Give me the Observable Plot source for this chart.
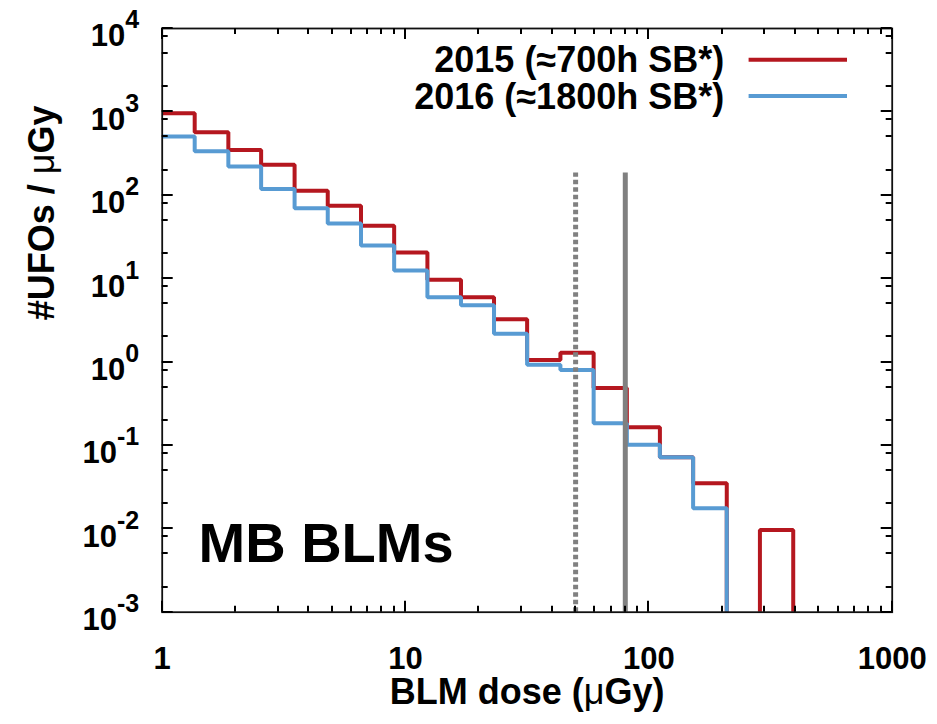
<!DOCTYPE html>
<html><head><meta charset="utf-8">
<script src="https://cdn.jsdelivr.net/npm/d3@7"></script>
<script src="https://cdn.jsdelivr.net/npm/@observablehq/plot@0.6"></script>
<style>html,body{margin:0;padding:0;background:#fff;} #chart{width:937px;height:724px;}</style>
</head><body><div id="chart"></div>
<script>
// ---- data ----
const binEdges = [1, 1.36, 1.87, 2.55, 3.5, 4.79, 6.56, 8.98, 12.3, 16.9, 23.1, 31.6, 43.3, 59.3, 81.2, 111, 152, 209, 286, 392];
const values2015 = [962, 569, 350, 232, 113, 75, 43, 20.6, 9.7, 6.0, 3.26, 1.06, 1.29, 0.49, 0.165, 0.072, 0.0352, 0, 0.0097];
const values2016 = [506, 337, 221, 119, 70, 46, 24.9, 12.5, 6.0, 4.8, 2.18, 0.925, 0.805, 0.185, 0.102, 0.072, 0.0177, 0, 0];
const seriesNames = ["2015 (≈700h SB*)", "2016 (≈1800h SB*)"];
const seriesColors = ["#b5171f", "#589bd3"];
const thresholdDotted = [50];
const thresholdSolid = [80];
const thresholdTop = 185;
const xTickValues = [1, 10, 100, 1000];
const xTickLabels = ["1", "10", "100", "1000"];
const xMinorTicks = [2,3,4,5,6,7,8,9,20,30,40,50,60,70,80,90,200,300,400,500,600,700,800,900];
const yTickValues = [1e-3, 1e-2, 1e-1, 1, 10, 100, 1000, 10000];
const yTickExponents = ["-3", "-2", "-1", "0", "1", "2", "3", "4"];
const yMinorTicks = [0.002,0.005,0.008,0.02,0.05,0.08,0.2,0.5,0.8,2,5,8,20,50,80,200,500,800,2000,5000,8000];
const xTitle = "BLM dose (μGy)";
const yTitle = "#UFOs / μGy";
const panelLabel = "MB BLMs";

// ---- layout ----
const W = 937, H = 724;
const mL = 161.7, mR = 45.3, mT = 28, mB = 112.3;
const FLOOR = 1e-7; // empty bins drop below the frame (clipped)

function steps(values, name) {
  const pts = values.map((v, i) => ({x: binEdges[i], y: v > 0 ? v : FLOOR, s: name}));
  pts.push({x: binEdges[values.length], y: FLOOR, s: name});
  return pts;
}
const d2015 = steps(values2015, seriesNames[0]);
const d2016 = steps(values2016, seriesNames[1]);

const font = "'Liberation Sans', Arial, Helvetica, sans-serif";
const txt = {fontWeight: "bold", fill: "#000", lineAnchor: "middle"};

const svg = Plot.plot({
  width: W, height: H,
  marginLeft: mL, marginRight: mR, marginTop: mT, marginBottom: mB,
  style: {fontFamily: font, background: "#fff", color: "#000", overflow: "visible"},
  x: {type: "log", domain: [1, 1000], axis: null},
  y: {type: "log", domain: [1e-3, 1e4], axis: null},
  marks: [
    Plot.line(d2015, {x: "x", y: "y", curve: "step-after", stroke: seriesColors[0], strokeWidth: 4, strokeLinejoin: "miter", strokeLinecap: "butt", clip: true}),
    Plot.line(d2016, {x: "x", y: "y", curve: "step-after", stroke: seriesColors[1], strokeWidth: 4, strokeLinejoin: "miter", strokeLinecap: "butt", clip: true}),
    Plot.ruleX(thresholdDotted, {y1: 1e-3, y2: thresholdTop, stroke: "#808080", strokeWidth: 5, strokeDasharray: "4.5,3"}),
    Plot.ruleX(thresholdSolid, {y1: 1e-3, y2: thresholdTop, stroke: "#808080", strokeWidth: 5}),
    Plot.frame({stroke: "#111", strokeWidth: 1.8}),
    Plot.text(xTickValues, {x: d => d, frameAnchor: "bottom", dy: 47, text: (d, i) => xTickLabels[i], fontSize: 31, ...txt}),
    Plot.text(yTickValues, {y: d => d, frameAnchor: "left", dx: -23, dy: 8, textAnchor: "end", text: (d, i) => "10^" + yTickExponents[i], fontSize: 31, ...txt}),
    Plot.text([xTitle], {text: d => d, frameAnchor: "bottom", dy: 80, fontSize: 36, ...txt}),
    Plot.text([yTitle], {text: d => d, frameAnchor: "left", dx: -119.7, rotate: -90, fontSize: 36, ...txt}),
    Plot.text([panelLabel], {text: d => d, frameAnchor: "bottom-left", dx: 36.3, dy: -67.7, textAnchor: "start", fontSize: 56, ...txt}),
    Plot.text([seriesNames[0]], {text: d => d, frameAnchor: "top-right", dx: -168, dy: 31.9, textAnchor: "end", fontSize: 36, ...txt}),
    Plot.text([seriesNames[1]], {text: d => d, frameAnchor: "top-right", dx: -168, dy: 68.9, textAnchor: "end", fontSize: 36, ...txt})
  ]
});

const root = d3.select(svg);

// inward tick marks on all four sides, placed with the plot's own scales
const sx = svg.scale("x"), sy = svg.scale("y");
const tg = root.append("g").attr("aria-label", "ticks");
const L = mL, R = W - mR, T = mT, B = H - mB;
function tick(x1, y1, x2, y2) {
  tg.append("line").attr("x1", x1).attr("y1", y1).attr("x2", x2).attr("y2", y2)
    .attr("stroke", "#000").attr("stroke-width", 2);
}
[[xTickValues, 11], [xMinorTicks, 6]].forEach(([vals, len]) => vals.forEach(v => {
  const px = Math.round(sx.apply(v));
  tick(px, B, px, B - len);
  tick(px, T, px, T + len);
}));
[[yTickValues, 11], [yMinorTicks, 6]].forEach(([vals, len]) => vals.forEach(v => {
  const py = Math.round(sy.apply(v));
  tick(L, py, L + len, py);
  tick(R, py, R - len, py);
}));

// superscript exponents on y tick labels; regular-weight mu in titles
root.selectAll("text").each(function () {
  const t = d3.select(this);
  const s = t.text();
  if (/^10\^/.test(s)) {
    const e = s.slice(3);
    t.text(null);
    t.append("tspan").text("10");
    t.append("tspan").attr("dy", -18).attr("font-size", 25).text(e);
  } else if (s.includes("μ") && t.selectAll("tspan").empty()) {
    const k = s.indexOf("μ");
    t.text(null);
    t.append("tspan").text(s.slice(0, k));
    t.append("tspan").attr("font-weight", "normal").text("μ");
    t.append("tspan").text(s.slice(k + 1));
  }
});

// legend swatches
const lg = root.append("g").attr("aria-label", "legend swatches");
const swX1 = W - mR - 143.1, swX2 = W - mR - 44.7;
[mT + 31.8, mT + 68].forEach((yy, i) => {
  lg.append("line").attr("x1", swX1).attr("x2", swX2).attr("y1", yy).attr("y2", yy)
    .attr("stroke", seriesColors[i]).attr("stroke-width", 4);
});

document.getElementById("chart").appendChild(svg);
</script>
</body></html>
